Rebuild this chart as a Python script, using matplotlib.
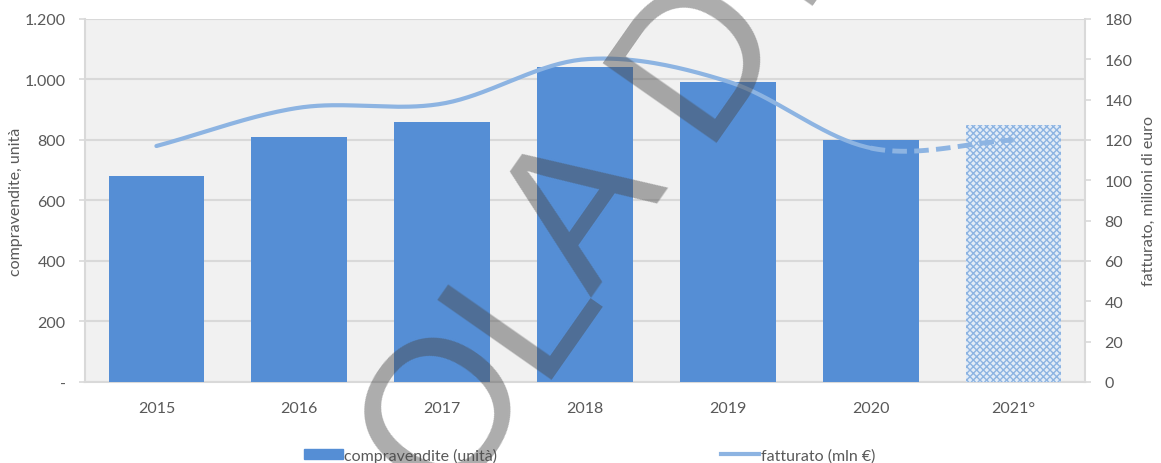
import numpy as np
import matplotlib.pyplot as plt
from matplotlib.patches import Patch
from matplotlib.lines import Line2D
from matplotlib.ticker import FuncFormatter

anni = ['2015', '2016', '2017', '2018', '2019', '2020', '2021°']
compravendite = [680, 810, 860, 1040, 990, 800, 850]
fatturato = [117, 136, 138, 160, 149, 116, 120]

plt.rcParams['font.family'] = ['Lato', 'DejaVu Sans']
grigio = '#595959'
blu = '#558ED5'
blu_linea = '#8DB4E2'
fs = 11.5


def spline(x, y, n=40):
    # curva morbida tipo Excel (Catmull-Rom)
    x = np.asarray(x, float)
    y = np.asarray(y, float)
    px = np.concatenate([[2 * x[0] - x[1]], x, [2 * x[-1] - x[-2]]])
    py = np.concatenate([[2 * y[0] - y[1]], y, [2 * y[-1] - y[-2]]])
    xs, ys = [], []
    for i in range(1, len(px) - 2):
        t = np.linspace(0, 1, n)
        for p, out in ((px, xs), (py, ys)):
            p0, p1, p2, p3 = p[i - 1], p[i], p[i + 1], p[i + 2]
            out.append(0.5 * ((2 * p1) + (-p0 + p2) * t
                              + (2 * p0 - 5 * p1 + 4 * p2 - p3) * t ** 2
                              + (-p0 + 3 * p1 - 3 * p2 + p3) * t ** 3))
    return xs, ys


fig = plt.figure(figsize=(11.61, 4.64), dpi=100)
ax = fig.add_axes([0.0732, 0.1746, 0.8613, 0.7824])
ax.set_facecolor('#f1f1f1')
ax2 = ax.twinx()

x = np.arange(len(anni))
ax.bar(x[:-1], compravendite[:-1], width=0.67, color=blu, zorder=3)
ax.bar(x[-1], compravendite[-1], width=0.67, color='#e3ecf7',
       edgecolor='#8DB4E2', hatch='xxxxx', linewidth=0, zorder=3)

ax.set_xlim(-0.5, 6.5)
ax.set_ylim(0, 1200)
ax.set_yticks(range(0, 1201, 200))
ax.yaxis.set_major_formatter(FuncFormatter(
    lambda v, p: '-' if v == 0 else f'{int(v):,}'.replace(',', '.')))
ax.set_xticks(x)
ax.set_xticklabels(anni)
ax.grid(axis='y', color='#d9d9d9', linewidth=1.5, zorder=0)
ax.set_axisbelow(True)
ax.tick_params(axis='y', colors=grigio, labelsize=fs, length=4,
               width=1.2, pad=10, color='#d9d9d9')
ax.tick_params(axis='x', colors=grigio, labelsize=fs, length=0, pad=14)
for s in ['top', 'right']:
    ax.spines[s].set_visible(False)
for s in ['left', 'bottom']:
    ax.spines[s].set_color('#d9d9d9')
    ax.spines[s].set_linewidth(1.5)
ax.set_ylabel('compravendite, unità', color=grigio, fontsize=fs, labelpad=1)

xs, ys = spline(x, fatturato)
sx = np.concatenate(xs[:5])
sy = np.concatenate(ys[:5])
ax2.plot(sx, sy, color=blu_linea, linewidth=3, solid_capstyle='round', zorder=4)
ax2.plot(xs[5], ys[5], color=blu_linea, linewidth=3.5, linestyle=(0, (3, 1.5)),
         zorder=4)
ax2.set_ylim(0, 180)
ax2.set_yticks(range(0, 181, 20))
ax2.tick_params(axis='y', colors=grigio, labelsize=fs, length=4,
                width=1.2, pad=10, color='#d9d9d9')
for s in ['top', 'left', 'bottom']:
    ax2.spines[s].set_visible(False)
ax2.spines['right'].set_color('#d9d9d9')
ax2.spines['right'].set_linewidth(1.5)
ax2.set_ylabel('fatturato, milioni di euro', color=grigio, fontsize=fs,
               labelpad=7)

handles = [Patch(color=blu, label='compravendite (unità)'),
           Line2D([0], [0], color=blu_linea, linewidth=3, label='fatturato (mln €)')]
leg = fig.legend(handles=handles, loc='center', ncol=2, frameon=False,
                 bbox_to_anchor=(0.508, 0.017), fontsize=fs, columnspacing=14,
                 handlelength=2.4, handleheight=0.6, handletextpad=0.1,
                 borderpad=0)
for t in leg.get_texts():
    t.set_color(grigio)

# filigrana: una lettera alla volta lungo la diagonale
ang = 55
u = np.array([np.cos(np.radians(ang)), -np.sin(np.radians(ang))])
p0 = np.array([535.0, 380.0])
lettere = ['S', 'O', 'L', 'A', 'D', 'E']
passi = [-300, -155, 0, 100, 289, 456]
for lett, s in zip(lettere, passi):
    px_, py_ = p0 + s * u
    fig.text(px_ / 1161, 1 - py_ / 464, lett, fontsize=146,
             family='Liberation Sans', color=(72 / 255, 72 / 255, 72 / 255),
             alpha=0.45, rotation=ang, rotation_mode='anchor', ha='left',
             va='baseline', transform=fig.transFigure, zorder=10)

fig.savefig('out.png', dpi=100)
